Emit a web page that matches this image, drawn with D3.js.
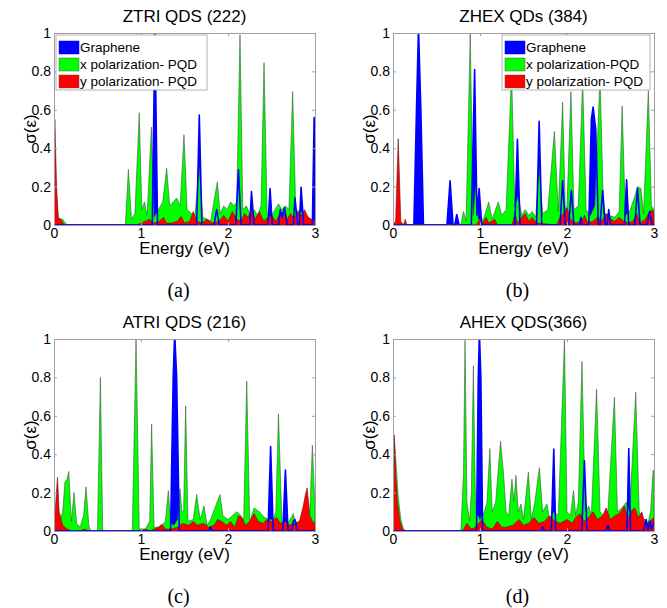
<!DOCTYPE html>
<html><head><meta charset="utf-8">
<script src="https://cdn.jsdelivr.net/npm/d3@7"></script>
<style>body{margin:0;background:#fff}svg{display:block}</style>
</head><body>
<svg id="chart" width="667" height="608"></svg>
<script>
// ---------- DATA: [energy (eV), sigma] ----------
const ztriGraphene = [[0,0],[1.13,0],[1.16,1.03],[1.19,0],[1.64,0],[1.67,0.573],[1.7,0],[1.84,0],[1.87,0.08],[1.9,0],[2.09,0],[2.12,0.287],[2.15,0],[2.25,0],[2.27,0.174],[2.3,0],[2.46,0],[2.483,0.19],[2.51,0],[2.58,0],[2.6,0.08],[2.62,0.04],[2.65,0.09],[2.68,0],[2.75,0],[2.77,0.14],[2.8,0],[2.82,0],[2.84,0.196],[2.87,0],[2.97,0],[2.99,0.56],[3,0.4]];
const ztriXpol = [[0,0.5],[0.02,0.2],[0.05,0.03],[0.1,0.03],[0.13,0.01],[0.16,0],[0.82,0],[0.855,0.29],[0.89,0.03],[0.93,0.06],[0.98,0.585],[1.01,0.08],[1.04,0.12],[1.07,0.05],[1.12,0.51],[1.15,0.04],[1.2,0.08],[1.25,0.12],[1.295,0.295],[1.33,0.1],[1.37,0.12],[1.41,0.14],[1.45,0.1],[1.494,0.47],[1.53,0.08],[1.58,0.06],[1.62,0.05],[1.67,0.3],[1.71,0.04],[1.76,0.03],[1.8,0.02],[1.877,0.225],[1.91,0.06],[1.95,0.1],[1.99,0.08],[2.03,0.12],[2.07,0.1],[2.1,0.12],[2.138,0.99],[2.17,0.08],[2.21,0.1],[2.25,0.06],[2.3,0.08],[2.34,0.05],[2.38,0.1],[2.414,0.845],[2.45,0.06],[2.5,0.04],[2.54,0.08],[2.58,0.11],[2.62,0.08],[2.66,0.1],[2.7,0.08],[2.743,0.695],[2.78,0.06],[2.82,0.08],[2.86,0.06],[2.9,0.05],[2.94,0.03],[2.97,0.02],[3,0.02]];
const ztriYpol = [[0,0.3],[0.01,0.55],[0.03,0.2],[0.05,0.03],[0.07,0.035],[0.09,0.02],[0.12,0],[0.95,0],[1.0,0.01],[1.05,0.02],[1.1,0.03],[1.14,0.01],[1.2,0.015],[1.26,0.04],[1.29,0.01],[1.35,0.01],[1.42,0.02],[1.46,0.045],[1.5,0.01],[1.56,0.02],[1.6,0.07],[1.64,0.02],[1.7,0.01],[1.76,0.03],[1.82,0.01],[1.9,0.02],[1.95,0.05],[2.0,0.02],[2.05,0.07],[2.1,0.03],[2.15,0.02],[2.19,0.06],[2.23,0.04],[2.27,0.08],[2.31,0.03],[2.36,0.07],[2.41,0.02],[2.46,0.04],[2.5,0.05],[2.55,0.02],[2.6,0.06],[2.64,0.07],[2.68,0.03],[2.72,0.06],[2.76,0.03],[2.8,0.07],[2.84,0.05],[2.88,0.08],[2.92,0.04],[2.96,0.03],[3,0.01]];

const zhexGraphene = [[0,0],[0.24,0],[0.27,0.6],[0.293,1.03],[0.32,0.6],[0.35,0],[0.62,0],[0.656,0.23],[0.69,0],[0.71,0],[0.733,0.055],[0.76,0],[0.9,0],[0.938,0.81],[0.965,0.05],[0.99,0.19],[1.02,0],[1.4,0],[1.43,0.447],[1.46,0],[1.65,0],[1.68,0.54],[1.71,0],[1.92,0],[1.95,0.23],[1.98,0],[2.02,0],[2.05,0.18],[2.08,0],[2.14,0],[2.16,0.04],[2.18,0],[2.25,0],[2.28,0.55],[2.3,0.614],[2.33,0.5],[2.36,0],[2.38,0],[2.41,0.18],[2.44,0],[2.46,0],[2.48,0.08],[2.5,0],[2.66,0],[2.685,0.235],[2.71,0],[2.78,0],[2.81,0.19],[2.84,0],[2.92,0],[2.95,0.07],[2.98,0],[3,0]];
const zhexXpol = [[0,0],[0.78,0],[0.81,0.07],[0.84,0.02],[0.888,1.0],[0.92,0.05],[0.95,0.2],[0.98,0.03],[1.04,0.03],[1.1,0.12],[1.14,0.03],[1.21,0.12],[1.25,0.05],[1.3,0.08],[1.363,0.8],[1.4,0.1],[1.44,0.15],[1.48,0.05],[1.52,0.08],[1.56,0.05],[1.6,0.07],[1.64,0.04],[1.68,0.3],[1.72,0.06],[1.78,0.08],[1.855,0.487],[1.9,0.07],[1.95,0.64],[1.98,0.08],[2.0,0.1],[2.045,0.695],[2.08,0.08],[2.13,0.1],[2.18,0.75],[2.22,0.08],[2.27,0.05],[2.32,0.1],[2.38,0.78],[2.42,0.06],[2.48,0.05],[2.55,0.04],[2.6,0.07],[2.634,0.62],[2.67,0.05],[2.72,0.07],[2.78,0.15],[2.81,0.2],[2.85,0.19],[2.88,0.06],[2.935,0.7],[2.97,0.1],[3,0.08]];
const zhexYpol = [[0,0],[0.03,0.02],[0.06,0.45],[0.09,0.02],[0.12,0],[0.14,0.03],[0.16,0],[0.95,0],[1.0,0.03],[1.03,0.01],[1.07,0.04],[1.1,0.01],[1.17,0.03],[1.2,0],[1.37,0],[1.4,0.06],[1.43,0.01],[1.48,0.04],[1.52,0.06],[1.56,0.02],[1.6,0.04],[1.65,0.01],[1.88,0],[1.92,0.04],[1.96,0.06],[2.0,0.09],[2.04,0.03],[2.1,0.01],[2.17,0.02],[2.2,0.05],[2.24,0.01],[2.3,0.02],[2.35,0.04],[2.4,0.02],[2.45,0.06],[2.5,0.03],[2.55,0.02],[2.6,0.04],[2.65,0.02],[2.7,0.01],[2.76,0.02],[2.8,0.06],[2.84,0.01],[2.9,0.03],[2.95,0.07],[2.98,0.08],[3,0.06]];

const atriGraphene = [[0,0],[1.34,0],[1.37,0.8],[1.387,1.03],[1.41,0.8],[1.44,0],[1.78,0],[1.8,0.02],[1.82,0],[2.46,0],[2.49,0.44],[2.52,0],[2.63,0],[2.66,0.317],[2.69,0],[2.73,0],[2.75,0.05],[2.77,0.06],[2.8,0],[3,0]];
const atriXpol = [[0,0],[0.05,0.03],[0.1,0.1],[0.126,0.256],[0.15,0.27],[0.17,0.31],[0.2,0.05],[0.23,0.2],[0.26,0.04],[0.3,0.02],[0.34,0.08],[0.368,0.23],[0.4,0.03],[0.42,0],[0.5,0],[0.533,0.8],[0.56,0],[0.9,0],[0.943,1.0],[0.98,0.01],[1.05,0.01],[1.1,0.05],[1.122,0.556],[1.15,0.02],[1.22,0.02],[1.28,0.05],[1.314,0.21],[1.34,0.04],[1.38,0.03],[1.42,0.06],[1.448,0.22],[1.47,0.1],[1.49,0.1],[1.513,0.652],[1.54,0.05],[1.6,0.06],[1.64,0.19],[1.68,0.06],[1.724,0.13],[1.76,0.03],[1.8,0.06],[1.85,0.12],[1.908,0.19],[1.94,0.08],[2.0,0.06],[2.05,0.08],[2.1,0.1],[2.15,0.08],[2.18,0.05],[2.215,0.78],[2.25,0.05],[2.3,0.12],[2.36,0.1],[2.42,0.07],[2.47,0.06],[2.52,0.06],[2.55,0.1],[2.58,0.61],[2.62,0.04],[2.68,0.03],[2.75,0.09],[2.78,0.04],[2.82,0.05],[2.88,0.08],[2.94,0.1],[2.97,0.447],[3,0.12]];
const atriYpol = [[0,0],[0.02,0.15],[0.04,0.28],[0.06,0.1],[0.1,0.03],[0.15,0.01],[0.2,0],[0.3,0],[0.35,0.01],[0.4,0],[1.0,0],[1.05,0.01],[1.1,0],[1.2,0.02],[1.24,0.035],[1.28,0.01],[1.35,0.01],[1.42,0.02],[1.48,0.04],[1.55,0.03],[1.6,0.05],[1.65,0.03],[1.72,0.04],[1.78,0.02],[1.84,0.03],[1.88,0.06],[1.93,0.05],[1.98,0.03],[2.03,0.05],[2.08,0.02],[2.12,0.08],[2.16,0.07],[2.2,0.03],[2.25,0.05],[2.3,0.09],[2.35,0.05],[2.4,0.04],[2.45,0.06],[2.5,0.05],[2.56,0.07],[2.6,0.04],[2.66,0.05],[2.7,0.03],[2.76,0.04],[2.82,0.05],[2.86,0.12],[2.89,0.19],[2.91,0.225],[2.94,0.08],[2.97,0.05],[3,0.04]];

const ahexGraphene = [[0,0],[0.96,0],[0.98,0.8],[0.993,1.03],[1.01,0.8],[1.03,0],[1.7,0],[1.72,0.02],[1.74,0],[1.82,0],[1.848,0.427],[1.87,0],[2.17,0],[2.2,0.366],[2.23,0],[2.45,0],[2.47,0.03],[2.49,0],[2.69,0],[2.71,0.43],[2.73,0],[2.88,0],[2.91,0.06],[2.93,0],[2.95,0.05],[2.97,0.01],[3,0.05]];
const ahexXpol = [[0,0.52],[0.02,0.45],[0.04,0.32],[0.06,0.18],[0.09,0.06],[0.12,0.01],[0.15,0],[0.78,0],[0.81,0.3],[0.828,0.993],[0.85,0.15],[0.88,0.05],[0.9,0.2],[0.924,0.86],[0.95,0.1],[1.0,0.06],[1.05,0.1],[1.08,0.15],[1.113,0.43],[1.14,0.1],[1.18,0.15],[1.236,0.468],[1.27,0.3],[1.3,0.1],[1.33,0.08],[1.367,0.27],[1.39,0.15],[1.413,0.29],[1.44,0.1],[1.47,0.14],[1.5,0.06],[1.556,0.308],[1.59,0.06],[1.63,0.15],[1.683,0.33],[1.72,0.1],[1.77,0.14],[1.8,0.06],[1.85,0.1],[1.9,0.08],[1.971,1.0],[2.0,0.1],[2.04,0.08],[2.075,0.21],[2.1,0.08],[2.13,0.15],[2.172,0.883],[2.21,0.1],[2.25,0.13],[2.28,0.08],[2.34,0.739],[2.38,0.1],[2.42,0.08],[2.47,0.1],[2.545,0.697],[2.58,0.1],[2.63,0.12],[2.68,0.15],[2.72,0.1],[2.79,0.723],[2.83,0.1],[2.87,0.06],[2.9,0.06],[2.93,0.04],[2.96,0.1],[2.99,0.317],[3,0.3]];
const ahexYpol = [[0,0.48],[0.015,0.5],[0.03,0.3],[0.05,0.15],[0.08,0.05],[0.11,0.01],[0.14,0],[0.8,0],[0.85,0.04],[0.9,0.01],[0.95,0.02],[1.02,0.06],[1.08,0.02],[1.14,0.01],[1.2,0.05],[1.25,0.02],[1.3,0.02],[1.38,0.03],[1.45,0.06],[1.5,0.03],[1.56,0.04],[1.62,0.07],[1.68,0.04],[1.74,0.05],[1.8,0.08],[1.86,0.05],[1.92,0.04],[2.0,0.06],[2.06,0.04],[2.1,0.07],[2.15,0.09],[2.2,0.05],[2.25,0.07],[2.3,0.1],[2.35,0.06],[2.41,0.08],[2.45,0.12],[2.5,0.06],[2.55,0.08],[2.6,0.09],[2.66,0.13],[2.7,0.06],[2.75,0.11],[2.78,0.12],[2.82,0.07],[2.86,0.1],[2.9,0.03],[2.95,0.05],[3,0.07]];

const panelTitles = ["ZTRI QDS (222)", "ZHEX QDs (384)", "ATRI QDS (216)", "AHEX QDS(366)"];
const subLabels = ["(a)", "(b)", "(c)", "(d)"];
const xTickValues = [0, 1, 2, 3];
const yTickValues = [0, 0.2, 0.4, 0.6, 0.8, 1];
const yTickLabels = ["0", "0.2", "0.4", "0.6", "0.8", "1"];
const legendA = ["Graphene", "x polarization- PQD", "y polarization- PQD"];
const legendB = ["Graphene", "x polarization-PQD", "y polarization- PQD"];
const xLabel = "Energy (eV)";
const yLabel = "σ(ε)";

// ---------- LAYOUT / STYLE ----------
const colors = { graphene: "#0000ff", x: "#00ff00", y: "#ff0000" };
const PW = 261, PH = 192;
const FONT = "'Liberation Sans', Arial, Helvetica, sans-serif";
const panels = [
  { left: 54, top: 33, g: ztriGraphene, xp: ztriXpol, yp: ztriYpol, legend: legendA, lg: { x: 2, w: 151 } },
  { left: 393, top: 33, g: zhexGraphene, xp: zhexXpol, yp: zhexYpol, legend: legendB, lg: { x: 109, w: 148 } },
  { left: 54, top: 339, g: atriGraphene, xp: atriXpol, yp: atriYpol, legend: null },
  { left: 393, top: 339, g: ahexGraphene, xp: ahexXpol, yp: ahexYpol, legend: null }
];

const svg = d3.select("#chart");
svg.append("rect").attr("width", 667).attr("height", 608).attr("fill", "#fff");

panels.forEach((p, i) => {
  const g = svg.append("g").attr("transform", `translate(${p.left},${p.top})`);
  const x = d3.scaleLinear().domain([0, 3]).range([0, PW]);
  const y = d3.scaleLinear().domain([0, 1]).range([PH, 0]);

  const clipId = "clip" + i;
  g.append("clipPath").attr("id", clipId).append("rect").attr("width", PW).attr("height", PH);

  const area = d3.area().x(d => x(d[0])).y0(y(0)).y1(d => y(d[1]));
  const line = d3.line().x(d => x(d[0])).y(d => y(d[1]));

  const plot = g.append("g").attr("clip-path", `url(#${clipId})`);
  plot.append("path").datum(p.g).attr("d", area).attr("fill", colors.graphene);
  plot.append("path").datum(p.xp).attr("d", area).attr("fill", colors.x)
      .attr("stroke", "#3a5a3a").attr("stroke-width", 0.6).attr("stroke-linejoin", "round");
  plot.append("path").datum(p.yp).attr("d", area).attr("fill", colors.y)
      .attr("stroke", "#5a1a1a").attr("stroke-width", 0.6).attr("stroke-linejoin", "round");
  plot.append("path").datum(p.g).attr("d", line).attr("fill", "none")
      .attr("stroke", colors.graphene).attr("stroke-width", 1.6).attr("stroke-linejoin", "round");

  // axes (MATLAB style, inward ticks, box)
  const styleAxis = (sel) => {
    sel.selectAll("path.domain").attr("stroke", "#a0a0a0");
    sel.selectAll(".tick line").attr("stroke", "#a0a0a0");
    sel.selectAll("text").attr("fill", "#000").style("font-family", FONT).style("font-size", "14px");
  };
  g.append("g").attr("transform", `translate(0,${PH})`)
    .call(d3.axisBottom(x).tickValues(xTickValues).tickFormat(d3.format("d")).tickSizeInner(-3).tickSizeOuter(0).tickPadding(3))
    .call(styleAxis);
  g.append("g")
    .call(d3.axisLeft(y).tickValues(yTickValues).tickFormat((d, k) => yTickLabels[k]).tickSizeInner(-3).tickSizeOuter(0).tickPadding(3))
    .call(styleAxis);
  g.append("g")
    .call(d3.axisTop(x).tickValues(xTickValues).tickFormat("").tickSizeInner(-3).tickSizeOuter(0))
    .call(styleAxis);
  g.append("g").attr("transform", `translate(${PW},0)`)
    .call(d3.axisRight(y).tickValues(yTickValues).tickFormat("").tickSizeInner(-3).tickSizeOuter(0))
    .call(styleAxis);

  // legend
  if (p.legend) {
    const lg = g.append("g").attr("transform", `translate(${p.lg.x},2)`);
    lg.append("rect").attr("width", p.lg.w).attr("height", 55).attr("fill", "#fff").attr("stroke", "#a0a0a0").attr("stroke-width", 0.8);
    const cols = [colors.graphene, colors.x, colors.y];
    p.legend.forEach((t, k) => {
      const cy = 12 + k * 17;
      lg.append("rect").attr("x", 3).attr("y", cy - 6).attr("width", 20).attr("height", 13)
        .attr("fill", cols[k]).attr("stroke", k === 0 ? colors.graphene : "#555").attr("stroke-width", 0.5);
      lg.append("text").attr("x", 24).attr("y", cy).attr("dy", "0.35em")
        .style("font-family", FONT).style("font-size", "13.5px").attr("fill", "#000").text(t);
    });
  }

  // labels
  g.append("text").attr("x", PW / 2).attr("y", -11).attr("text-anchor", "middle")
    .style("font-family", FONT).style("font-size", "17px").text(panelTitles[i]);
  g.append("text").attr("x", PW / 2).attr("y", PH + 29).attr("text-anchor", "middle")
    .style("font-family", FONT).style("font-size", "17px").text(xLabel);
  g.append("text").attr("transform", `translate(-24,${PH / 2}) rotate(-90)`).attr("text-anchor", "middle")
    .attr("dy", "0.35em").style("font-family", FONT).style("font-size", "17px").text(yLabel);
  g.append("text").attr("x", PW / 2 - 6).attr("y", PH + 72).attr("text-anchor", "middle")
    .style("font-family", "'Liberation Serif', 'DejaVu Serif', serif").style("font-size", "20px").text(subLabels[i]);
});
</script>
</body></html>
